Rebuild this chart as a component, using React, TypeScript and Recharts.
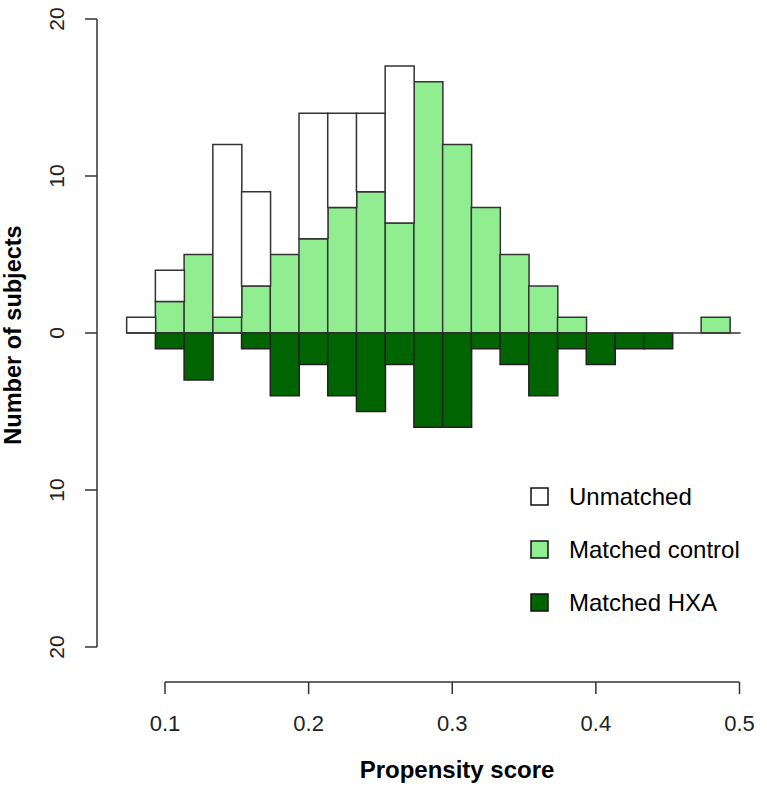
import React from 'react';
import { ComposedChart, Bar, XAxis, YAxis, ReferenceLine, Legend, Label } from 'recharts';

// Histogram bin centers (bin width 0.02)
const binCenters = [
  0.0833, 0.1033, 0.1233, 0.1433, 0.1633, 0.1833, 0.2033, 0.2233, 0.2433, 0.2633,
  0.2833, 0.3033, 0.3233, 0.3433, 0.3633, 0.3833, 0.4033, 0.4233, 0.4433, 0.4633, 0.4833,
];
// Unmatched controls (stacked above matched controls)
const unmatched = [1, 2, 0, 11, 6, 0, 8, 6, 5, 10, 0, 0, 0, 0, 0, 0, 0, 0, 0, 0, 0];
// Matched controls
const matchedControl = [0, 2, 5, 1, 3, 5, 6, 8, 9, 7, 16, 12, 8, 5, 3, 1, 0, 0, 0, 0, 1];
// Matched HXA (drawn downward)
const matchedHXA = [0, 1, 3, 0, 1, 4, 2, 4, 5, 2, 6, 6, 1, 2, 4, 1, 2, 1, 1, 0, 0];

const xTicks = [0.1, 0.2, 0.3, 0.4, 0.5];
const yTicks = [20, 10, 0, -10, -20];

const legendNames = ['Unmatched', 'Matched control', 'Matched HXA'];
const legendColors = ['#ffffff', '#90ee90', '#006400'];

const data = binCenters.map((x, i) => ({
  x,
  control: matchedControl[i],
  unmatched: unmatched[i],
  hxa: -matchedHXA[i],
}));

const FONT = '"Liberation Sans", Arial, Helvetica, sans-serif';
const X_DOMAIN: [number, number] = [0.052655, 0.514275];
const Y_DOMAIN: [number, number] = [-22.23, 20];

const XTick = (props: any) => {
  const { x, y, payload } = props;
  return (
    <text x={x} y={y + 35} textAnchor="middle" fontSize={22} fill="#222" fontFamily={FONT}>
      {String(payload.value)}
    </text>
  );
};

const YTick = (props: any) => {
  const { y, payload } = props;
  return (
    <text
      transform={`translate(64, ${y}) rotate(-90)`}
      textAnchor="middle"
      fontSize={21}
      fill="#222"
      fontFamily={FONT}
    >
      {String(Math.abs(payload.value))}
    </text>
  );
};

const LegendContent = () => (
  <svg width={240} height={150}>
    {legendNames.map((n, i) => (
      <g key={n}>
        <rect x={8} y={9 + 53 * i} width={17} height={17} fill={legendColors[i]} stroke="#111" strokeWidth={1.5} />
        <text x={46} y={26 + 53 * i} fontSize={24} fill="#000" fontFamily={FONT}>
          {n}
        </text>
      </g>
    ))}
  </svg>
);

export default function App() {
  const axisStroke = { stroke: '#333', strokeWidth: 1.5 };
  return (
    <div style={{ position: 'absolute', left: 0, top: 0, background: '#fff' }}>
      <ComposedChart
        width={767}
        height={790}
        data={data}
        margin={{ top: 19, right: 7, left: 37, bottom: 48 }}
        stackOffset="sign"
        barCategoryGap={0}
        barGap={0}
      >
        <XAxis
          dataKey="x"
          type="number"
          domain={X_DOMAIN}
          ticks={xTicks}
          interval={0}
          height={60}
          axisLine={false}
          tickLine={axisStroke}
          tickSize={12}
          tick={<XTick />}
        >
          <Label
            content={() => (
              <text x={457} y={778} textAnchor="middle" fontSize={24} fontWeight="bold" fill="#000" fontFamily={FONT}>
                Propensity score
              </text>
            )}
          />
        </XAxis>
        <YAxis
          type="number"
          domain={Y_DOMAIN}
          ticks={yTicks}
          interval={0}
          width={60}
          axisLine={false}
          tickLine={axisStroke}
          tickSize={12}
          tick={<YTick />}
        >
          <Label
            content={() => (
              <text
                transform="translate(21, 335) rotate(-90)"
                textAnchor="middle"
                fontSize={23.5}
                fontWeight="bold"
                fill="#000"
                fontFamily={FONT}
              >
                Number of subjects
              </text>
            )}
          />
        </YAxis>
        <Bar dataKey="control" name="Matched control" stackId="a" fill="#90ee90" stroke="#333" strokeWidth={1.5} isAnimationActive={false} />
        <Bar dataKey="unmatched" name="Unmatched" stackId="a" fill="#ffffff" stroke="#333" strokeWidth={1.5} isAnimationActive={false} />
        <Bar dataKey="hxa" name="Matched HXA" stackId="a" fill="#006400" stroke="#222" strokeWidth={1.5} isAnimationActive={false} />
        <ReferenceLine segment={[{ x: 0.0733, y: 0 }, { x: 0.5008, y: 0 }]} stroke="#333" strokeWidth={1.5} ifOverflow="visible" />
        <ReferenceLine segment={[{ x: X_DOMAIN[0], y: 20 }, { x: X_DOMAIN[0], y: -20 }]} stroke="#333" strokeWidth={1.5} ifOverflow="visible" />
        <ReferenceLine segment={[{ x: 0.1, y: Y_DOMAIN[0] }, { x: 0.5, y: Y_DOMAIN[0] }]} stroke="#333" strokeWidth={1.5} ifOverflow="visible" />
        <Legend
          layout="vertical"
          align="center"
          verticalAlign="middle"
          content={<LegendContent />}
          wrapperStyle={{ left: 523, top: 479, width: 240, height: 150 }}
        />
      </ComposedChart>
    </div>
  );
}
